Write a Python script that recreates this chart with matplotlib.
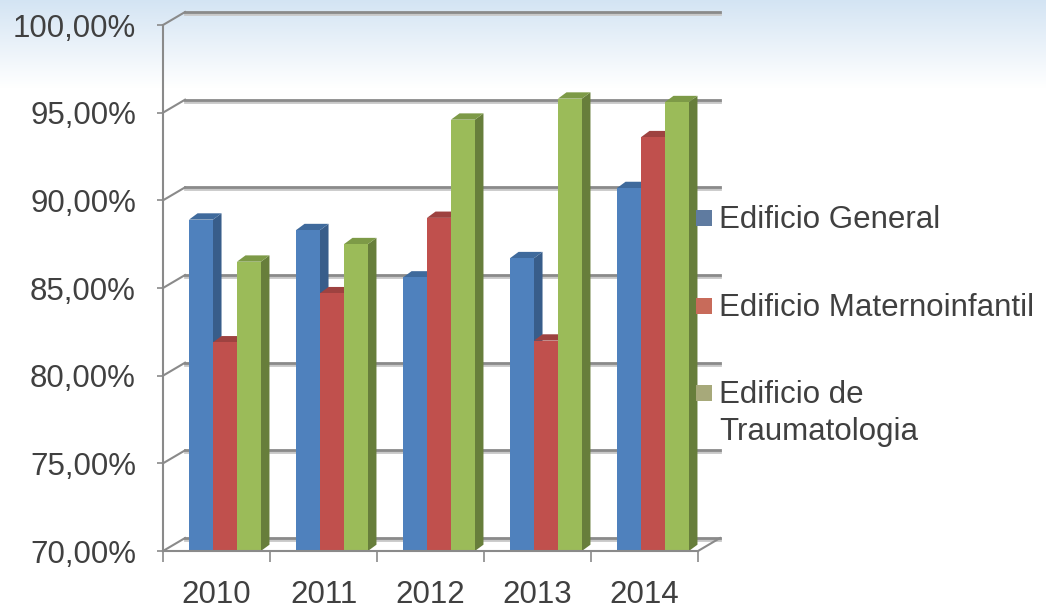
import numpy as np
import matplotlib.pyplot as plt
import matplotlib.transforms as mtransforms
from matplotlib.patches import Polygon, Rectangle

plt.rcParams['font.family'] = ['Liberation Sans', 'DejaVu Sans']

years = ['2010', '2011', '2012', '2013', '2014']
general = [88.9, 88.3, 85.6, 86.7, 90.7]
materno = [81.9, 84.7, 89.0, 82.0, 93.6]
trauma = [86.5, 87.5, 94.6, 95.8, 95.6]
series_names = ['Edificio General', 'Edificio Maternoinfantil', 'Edificio de\nTraumatologia']

front_cols = ['#4f81bd', '#c0504d', '#9bbb59']
side_cols = ['#385d8a', '#8c3a38', '#677e3b']
top_cols = ['#3f6a9c', '#9e4240', '#7d9a47']
legend_cols = ['#5f7ba0', '#c86b5a', '#a7a97a']
text_col = '#404040'
grid_col = '#8a8a8a'
fs = 22.5

W, H = 1046, 610
fig = plt.figure(figsize=(W / 100, H / 100), dpi=100)

# soft blue band at the top of the slide
bg = fig.add_axes([0, 1 - 88 / H, 1, 88 / H], zorder=-5)
g = np.linspace(0, 1, 100)[:, None]
c0 = np.array([0.83, 0.895, 0.955])
c1 = np.array([1.0, 1.0, 1.0])
img = c0[None, None, :] * (1 - g[..., None]) + c1[None, None, :] * g[..., None]
bg.imshow(np.repeat(img, 2, axis=1), aspect='auto', extent=[0, 1, 0, 1])
bg.axis('off')

ax = fig.add_axes([163 / W, 59 / H, 535 / W, 526 / H])
ax.set_xlim(0, 5)
ax.set_ylim(70, 100)
ax.patch.set_alpha(0)

# depth of the back wall and of the bars (data units)
DX, DY = 0.206, 0.74
BDX, BDY = 0.08, 0.36
bw = 0.224
off0 = 0.243

shadow = mtransforms.offset_copy(ax.transData, fig, x=0, y=-2, units='dots')
yt = np.arange(70, 101, 5)
for v in yt:
    ax.plot([DX, 5 + DX], [v + DY, v + DY], color='#c8c8c8', lw=2, transform=shadow,
            clip_on=False, zorder=1)
    ax.plot([DX, 5 + DX], [v + DY, v + DY], color=grid_col, lw=2, clip_on=False, zorder=1)
    ax.plot([0, DX], [v, v + DY], color=grid_col, lw=1.5, clip_on=False, zorder=1)
ax.plot([5, 5 + DX], [70, 70 + DY], color=grid_col, lw=1.5, clip_on=False, zorder=1)

x = np.arange(len(years))
for i, vals in enumerate([general, materno, trauma]):
    lefts = x + off0 + i * bw
    for l, v in zip(lefts, vals):
        side = Polygon([(l + bw, 70), (l + bw + BDX, 70 + BDY), (l + bw + BDX, v + BDY), (l + bw, v)],
                       closed=True, facecolor=side_cols[i], edgecolor='none', zorder=3 + i, clip_on=False)
        top = Polygon([(l, v), (l + bw, v), (l + bw + BDX, v + BDY), (l + BDX, v + BDY)],
                      closed=True, facecolor=top_cols[i], edgecolor='none', zorder=3 + i, clip_on=False)
        ax.add_patch(side)
        ax.add_patch(top)
    ax.bar(lefts, np.array(vals) - 70, bottom=70, width=bw, align='edge',
           color=front_cols[i], edgecolor='none', zorder=3 + i)

for s in ['top', 'right']:
    ax.spines[s].set_visible(False)
for s in ['left', 'bottom']:
    ax.spines[s].set_color(grid_col)
    ax.spines[s].set_linewidth(1.5)
    ax.spines[s].set_zorder(8)

ax.set_yticks(yt)
ax.set_yticklabels(['%d,00%%' % v for v in yt])
ax.tick_params(axis='y', length=4.5, width=1.2, color=grid_col, pad=15,
               labelsize=fs, labelcolor=text_col)
ax.set_xticks(np.arange(0, 6))
ax.set_xticklabels([])
ax.set_xticks(x + 0.5, minor=True)
ax.set_xticklabels(years, minor=True)
ax.tick_params(axis='x', which='major', length=8, width=1.2, color=grid_col)
ax.tick_params(axis='x', which='minor', length=0, pad=21, labelsize=fs, labelcolor=text_col)

# legend
def fx(px):
    return px / W

def fy(py):
    return 1 - py / H

for name, col, cy in zip(series_names, legend_cols, [218, 306, 393]):
    fig.patches.append(Rectangle((fx(696), fy(cy + 8)), 16 / W, 16 / H, transform=fig.transFigure,
                                 facecolor=col, edgecolor='none'))
    fig.text(fx(719), fy(cy - 13), name, fontsize=fs, color=text_col, ha='left', va='top',
             linespacing=1.3)

fig.savefig('out.png', dpi=100)
